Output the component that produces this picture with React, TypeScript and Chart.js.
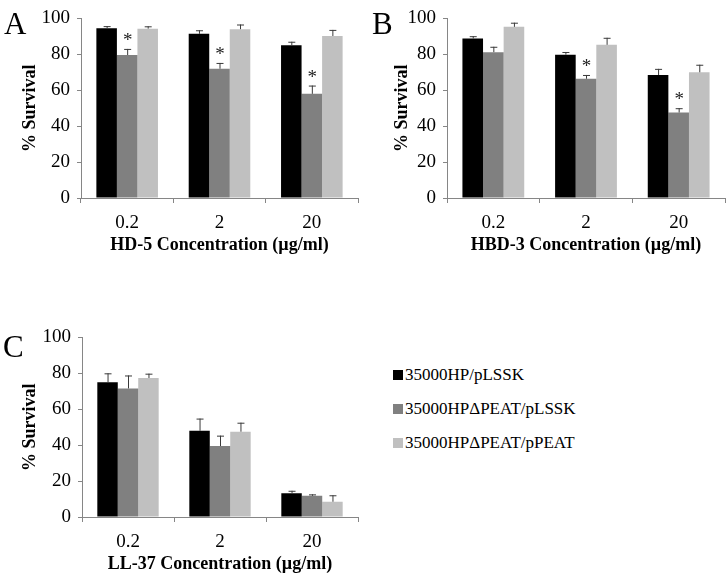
import React, { useEffect, useRef } from "react";
import { Chart, registerables } from "chart.js";

Chart.register(...registerables);

// ---- data ----
const categories = ["0.2", "2", "20"];
const seriesNames = ["35000HP/pLSSK", "35000HPΔPEAT/pLSSK", "35000HPΔPEAT/pPEAT"];
const seriesColors = ["#000000", "#808080", "#c0c0c0"];
const yTicks = [0, 20, 40, 60, 80, 100];

// Panel A: HD-5
const hd5Wt = [94.5, 91.4, 85.0];
const hd5Mut = [79.6, 72.0, 58.0];
const hd5Comp = [94.3, 94.0, 90.2];
const hd5WtErr = [1.2, 2.0, 2.0];
const hd5MutErr = [3.4, 3.2, 4.6];
const hd5CompErr = [1.3, 2.6, 3.4];
const hd5MutStar = [true, true, true];

// Panel B: HBD-3
const hbd3Wt = [88.8, 79.8, 68.5];
const hbd3Mut = [81.2, 66.4, 47.6];
const hbd3Comp = [95.3, 85.3, 70.0];
const hbd3WtErr = [1.3, 1.5, 3.4];
const hbd3MutErr = [3.0, 2.1, 2.4];
const hbd3CompErr = [2.3, 3.9, 4.2];
const hbd3MutStar = [false, true, true];

// Panel C: LL-37
const ll37Wt = [75.0, 48.0, 13.2];
const ll37Mut = [71.6, 39.5, 11.8];
const ll37Comp = [77.4, 47.5, 8.5];
const ll37WtErr = [5.0, 6.8, 1.4];
const ll37MutErr = [7.2, 5.8, 0.8];
const ll37CompErr = [2.4, 5.0, 3.6];
const noStar = [false, false, false];

const FONT = "'Liberation Serif', 'Times New Roman', Times, serif";
const AXIS_COLOR = "#868686";

const errorPlugin = {
  id: "errorBars",
  afterDatasetsDraw(chart: any) {
    const ctx = chart.ctx;
    const yScale = chart.scales.y;
    chart.data.datasets.forEach((ds: any, i: number) => {
      const meta = chart.getDatasetMeta(i);
      meta.data.forEach((el: any, j: number) => {
        const v = ds.data[j];
        const e = ds.errors ? ds.errors[j] : 0;
        const yTop = yScale.getPixelForValue(v + e);
        const x = el.x;
        ctx.save();
        ctx.strokeStyle = "#3a3a3a";
        ctx.lineWidth = 1;
        ctx.beginPath();
        ctx.moveTo(x + 0.5, el.y);
        ctx.lineTo(x + 0.5, yTop);
        ctx.moveTo(x - 3, yTop + 0.5);
        ctx.lineTo(x + 4, yTop + 0.5);
        ctx.stroke();
        if (ds.stars && ds.stars[j]) {
          ctx.fillStyle = "#222";
          ctx.font = `19px ${FONT}`;
          ctx.textAlign = "center";
          ctx.textBaseline = "alphabetic";
          ctx.fillText("*", x + 0.5, yTop - 3);
        }
        ctx.restore();
      });
    });
  },
};

type PanelProps = {
  left: number;
  top: number;
  width: number;
  height: number;
  yWidth: number;
  padRight: number;
  yTitlePad: number;
  xTitle: string;
  values: number[][];
  errors: number[][];
  stars: boolean[][];
};

function Panel(p: PanelProps) {
  const ref = useRef<HTMLCanvasElement | null>(null);
  useEffect(() => {
    if (!ref.current) return;
    const chart = new Chart(ref.current, {
      type: "bar",
      data: {
        labels: categories,
        datasets: p.values.map((v, i) => ({
          label: seriesNames[i],
          data: v,
          backgroundColor: seriesColors[i],
          borderWidth: 0,
          barPercentage: 1,
          categoryPercentage: 0.667,
          errors: p.errors[i],
          stars: p.stars[i],
        })) as any,
      },
      options: {
        responsive: false,
        maintainAspectRatio: false,
        animation: false,
        layout: { padding: { left: 0, top: 11, right: p.padRight, bottom: 0 } },
        plugins: { legend: { display: false }, tooltip: { enabled: false } },
        scales: {
          x: {
            grid: {
              display: true,
              drawOnChartArea: false,
              drawTicks: true,
              tickLength: 5,
              color: AXIS_COLOR,
              offset: true,
            },
            border: { color: AXIS_COLOR, width: 1 },
            ticks: { font: { family: FONT, size: 19 }, color: "#000", padding: 9 },
            title: {
              display: true,
              text: p.xTitle,
              color: "#000",
              font: { family: FONT, size: 18, weight: "bold" },
              padding: { top: 0, bottom: 6 },
            },
            afterFit: (s: any) => {
              s.height = 64;
            },
          },
          y: {
            min: 0,
            max: 100,
            afterBuildTicks: (s: any) => {
              s.ticks = yTicks.map((v) => ({ value: v }));
            },
            grid: {
              display: true,
              drawOnChartArea: false,
              drawTicks: true,
              tickLength: 4,
              color: AXIS_COLOR,
            },
            border: { color: AXIS_COLOR, width: 1 },
            ticks: { font: { family: FONT, size: 19 }, color: "#000", padding: 7 },
            title: {
              display: true,
              text: "% Survival",
              color: "#000",
              font: { family: FONT, size: 18, weight: "bold" },
              padding: { top: p.yTitlePad, bottom: 0 },
            },
            afterFit: (s: any) => {
              s.width = p.yWidth;
            },
          },
        },
      } as any,
      plugins: [errorPlugin],
    });
    return () => chart.destroy();
  }, []);
  return (
    <canvas
      ref={ref}
      width={p.width}
      height={p.height}
      style={{ position: "absolute", left: p.left, top: p.top, width: p.width, height: p.height }}
    />
  );
}

const letterStyle: React.CSSProperties = {
  position: "absolute",
  fontFamily: FONT,
  fontSize: 31,
  lineHeight: "31px",
  color: "#000",
};

export default function App() {
  return (
    <div style={{ position: "absolute", left: 0, top: 0, width: 727, height: 575, background: "#fff", overflow: "hidden" }}>
      <Panel
        left={0}
        top={0}
        width={365}
        height={262}
        yWidth={81}
        padRight={7}
        yTitlePad={20}
        xTitle="HD-5 Concentration (µg/ml)"
        values={[hd5Wt, hd5Mut, hd5Comp]}
        errors={[hd5WtErr, hd5MutErr, hd5CompErr]}
        stars={[noStar, hd5MutStar, noStar]}
      />
      <Panel
        left={366}
        top={0}
        width={361}
        height={262}
        yWidth={81}
        padRight={2}
        yTitlePad={26}
        xTitle="HBD-3 Concentration (µg/ml)"
        values={[hbd3Wt, hbd3Mut, hbd3Comp]}
        errors={[hbd3WtErr, hbd3MutErr, hbd3CompErr]}
        stars={[noStar, hbd3MutStar, noStar]}
      />
      <Panel
        left={0}
        top={319}
        width={365}
        height={262}
        yWidth={82}
        padRight={7}
        yTitlePad={20}
        xTitle="LL-37 Concentration (µg/ml)"
        values={[ll37Wt, ll37Mut, ll37Comp]}
        errors={[ll37WtErr, ll37MutErr, ll37CompErr]}
        stars={[noStar, noStar, noStar]}
      />
      <div style={{ ...letterStyle, left: 4, top: 8 }}>A</div>
      <div style={{ ...letterStyle, left: 372, top: 8 }}>B</div>
      <div style={{ ...letterStyle, left: 3, top: 331 }}>C</div>
      {seriesNames.map((name, i) => (
        <div
          key={name}
          style={{
            position: "absolute",
            left: 393,
            top: 375 + i * 34 - 10,
            height: 20,
            display: "flex",
            alignItems: "center",
            fontFamily: FONT,
            fontSize: 17,
            color: "#000",
            whiteSpace: "nowrap",
          }}
        >
          <span style={{ display: "inline-block", width: 10, height: 10, background: seriesColors[i], marginRight: 2 }} />
          <span>{name}</span>
        </div>
      ))}
    </div>
  );
}
